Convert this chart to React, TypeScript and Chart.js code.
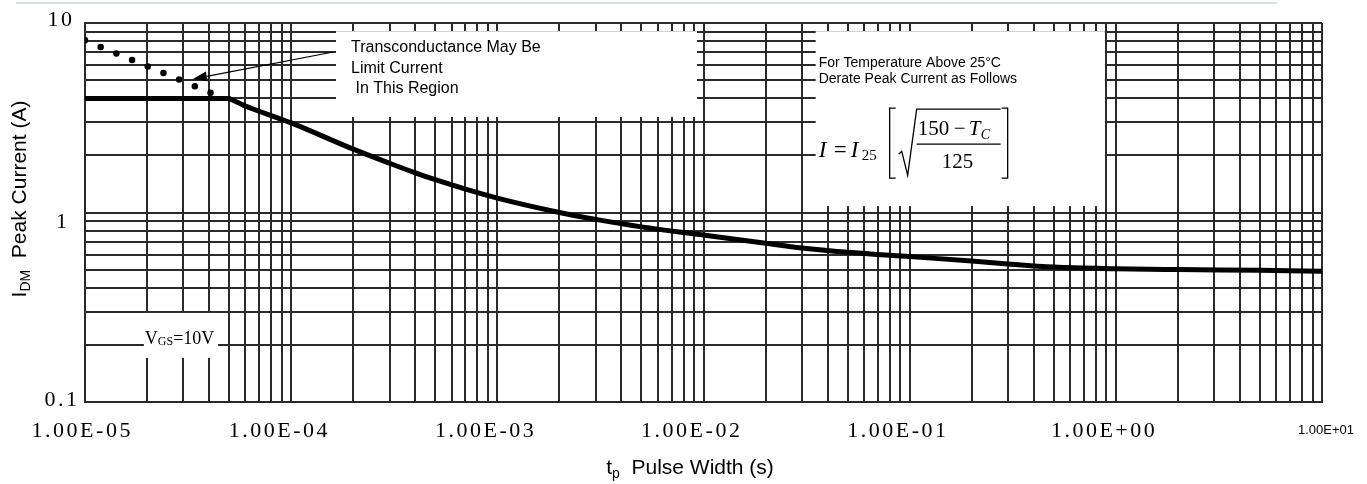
import React, { useEffect, useRef } from 'react';
import { Chart, registerables } from 'chart.js';

Chart.register(...registerables);

// ---------------- data ----------------
const FLAT_PULSE_WIDTH = [1e-5, 5e-5];
const FLAT_PEAK_CURRENT = [4.0, 4.0];

const PULSE_WIDTH = [5e-5, 6e-5, 1e-4, 2e-4, 3e-4, 4e-4, 5e-4, 7e-4, 1e-3, 2e-3, 3e-3, 5e-3, 1e-2, 2e-2, 3e-2, 5e-2, 1e-1, 2e-1, 3e-1, 5e-1, 1, 2, 5, 10];
const PEAK_CURRENT = [4.0, 3.65, 2.97, 2.16, 1.82, 1.62, 1.49, 1.33, 1.19, 1.0, 0.92, 0.84, 0.76, 0.688, 0.65, 0.617, 0.585, 0.555, 0.535, 0.515, 0.505, 0.5, 0.495, 0.49];

const GM_PULSE_WIDTH = [1e-5, 4.1e-5];
const GM_PEAK_CURRENT = [8.1, 4.27];

const X_TICK_VALUES = [1e-5, 1e-4, 1e-3, 1e-2, 1e-1, 1, 10];
const X_TICK_LABELS = ['1.00E-05', '1.00E-04', '1.00E-03', '1.00E-02', '1.00E-01', '1.00E+00', '1.00E+01'];
const Y_TICK_VALUES = [0.1, 1, 10];
const Y_TICK_LABELS = ['0.1', '1', '10'];
const MINOR_MULTIPLES = [1, 2, 3, 4, 5, 6, 7, 8, 9];

const GM_NOTE_LINES = ['Transconductance May Be', 'Limit Current', ' In This Region'];
const DERATE_NOTE_LINES = ['For Temperature Above 25\u00B0C', 'Derate Peak Current as Follows'];

// annotation boxes in data coordinates
const GM_BOX = { x0: 1.65e-4, x1: 9.3e-3, y0: 9.05, y1: 3.19 };
const DERATE_BOX = { x0: 3.5e-2, x1: 0.885, y0: 9.05, y1: 1.08 };
const VGS_BOX = { x0: 1.93e-5, x1: 4.42e-5, y0: 0.295, y1: 0.171 };
const ARROW_FROM = { x: 1.6e-4, y: 7.03 };
const ARROW_TO = { x: 3.34e-5, y: 5.06 };

const SANS = '"Liberation Sans", Arial, sans-serif';
const SERIF = '"Liberation Serif", "Times New Roman", serif';
const GRID = '#2a2a2a';

type Part = { text: string; font: string; dy?: number };

function drawParts(ctx: CanvasRenderingContext2D, parts: Part[], x: number, y: number, align: 'left' | 'center') {
  let total = 0;
  const widths = parts.map((p) => {
    ctx.font = p.font;
    const w = ctx.measureText(p.text).width;
    total += w;
    return w;
  });
  let cx = align === 'center' ? x - total / 2 : x;
  ctx.textAlign = 'left';
  parts.forEach((p, i) => {
    ctx.font = p.font;
    ctx.fillText(p.text, cx, y + (p.dy || 0));
    cx += widths[i];
  });
}

const overlayPlugin = {
  id: 'overlay',
  beforeDatasetsDraw(chart: any) {
    const ctx: CanvasRenderingContext2D = chart.ctx;
    const xs = chart.scales.x;
    const ys = chart.scales.y;
    const rect = (b: { x0: number; x1: number; y0: number; y1: number }) => ({
      l: xs.getPixelForValue(b.x0),
      r: xs.getPixelForValue(b.x1),
      t: ys.getPixelForValue(b.y0),
      b: ys.getPixelForValue(b.y1),
    });
    ctx.save();
    ctx.fillStyle = '#ffffff';
    const g = rect(GM_BOX);
    const d = rect(DERATE_BOX);
    const v = rect(VGS_BOX);
    [g, d, v].forEach((r) => ctx.fillRect(r.l, r.t, r.r - r.l, r.b - r.t));

    ctx.fillStyle = '#000';
    ctx.textBaseline = 'alphabetic';
    ctx.textAlign = 'left';
    // transconductance note
    ctx.font = `16px ${SANS}`;
    GM_NOTE_LINES.forEach((line, i) => {
      ctx.fillText(line, g.l + 15, g.t + 21 + i * 20.5);
    });
    // derate note
    ctx.font = `14px ${SANS}`;
    DERATE_NOTE_LINES.forEach((line, i) => {
      ctx.fillText(line, d.l + 3, d.t + 36 + i * 16);
    });

    // equation I = I25 [ sqrt((150 - Tc)/125) ]
    const ex = d.l + 3;
    const eb = d.t + 126;
    ctx.font = `italic 23px ${SERIF}`;
    ctx.fillText('I', ex, eb);
    ctx.font = `23px ${SERIF}`;
    ctx.fillText('=', ex + 15, eb);
    ctx.font = `italic 23px ${SERIF}`;
    ctx.fillText('I', ex + 32, eb);
    ctx.font = `15px ${SERIF}`;
    ctx.fillText('25', ex + 43, eb + 3);
    ctx.strokeStyle = '#000';
    ctx.lineWidth = 1.3;
    const top = d.t + 77;
    const bot = d.t + 147;
    // left bracket
    ctx.beginPath();
    ctx.moveTo(ex + 77, top);
    ctx.lineTo(ex + 71, top);
    ctx.lineTo(ex + 71, bot);
    ctx.lineTo(ex + 77, bot);
    ctx.stroke();
    // radical
    ctx.beginPath();
    ctx.moveTo(ex + 80, eb - 3);
    ctx.lineTo(ex + 83, eb - 6);
    ctx.lineTo(ex + 89, bot - 3);
    ctx.lineTo(ex + 98, top + 1);
    ctx.lineTo(ex + 182, top + 1);
    ctx.stroke();
    // numerator
    ctx.font = `21px ${SERIF}`;
    ctx.fillText('150', ex + 99, d.t + 104);
    ctx.fillText('\u2212', ex + 135, d.t + 104);
    ctx.font = `italic 21px ${SERIF}`;
    ctx.fillText('T', ex + 150, d.t + 104);
    ctx.font = `italic 14px ${SERIF}`;
    ctx.fillText('C', ex + 162, d.t + 108);
    // fraction bar
    ctx.beginPath();
    ctx.moveTo(ex + 98, d.t + 113);
    ctx.lineTo(ex + 182, d.t + 113);
    ctx.stroke();
    ctx.font = `21px ${SERIF}`;
    ctx.fillText('125', ex + 123, d.t + 137);
    // right bracket
    ctx.beginPath();
    ctx.moveTo(ex + 183, top);
    ctx.lineTo(ex + 189, top);
    ctx.lineTo(ex + 189, bot);
    ctx.lineTo(ex + 183, bot);
    ctx.stroke();

    // V_GS = 10V label
    drawParts(
      ctx,
      [
        { text: 'V', font: `18px ${SERIF}` },
        { text: 'GS', font: `12px ${SERIF}`, dy: 1 },
        { text: '=10V', font: `18px ${SERIF}` },
      ],
      v.l + 1,
      ys.getPixelForValue(0.2) - 1,
      'left'
    );
    ctx.restore();
  },
  afterDatasetsDraw(chart: any) {
    const ctx: CanvasRenderingContext2D = chart.ctx;
    const xs = chart.scales.x;
    const ys = chart.scales.y;
    const x1 = xs.getPixelForValue(ARROW_FROM.x);
    const y1 = ys.getPixelForValue(ARROW_FROM.y);
    const x2 = xs.getPixelForValue(ARROW_TO.x);
    const y2 = ys.getPixelForValue(ARROW_TO.y);
    const ang = Math.atan2(y2 - y1, x2 - x1);
    const len = 14;
    const hw = 5;
    const bx = x2 - len * Math.cos(ang);
    const by = y2 - len * Math.sin(ang);
    ctx.save();
    ctx.strokeStyle = '#000';
    ctx.fillStyle = '#000';
    ctx.lineWidth = 1.2;
    ctx.beginPath();
    ctx.moveTo(x1, y1);
    ctx.lineTo(bx, by);
    ctx.stroke();
    ctx.beginPath();
    ctx.moveTo(x2, y2);
    ctx.lineTo(bx + hw * Math.sin(ang), by - hw * Math.cos(ang));
    ctx.lineTo(bx - hw * Math.sin(ang), by + hw * Math.cos(ang));
    ctx.closePath();
    ctx.fill();
    ctx.restore();
  },
  afterDraw(chart: any) {
    const ctx: any = chart.ctx;
    const xs = chart.scales.x;
    const ys = chart.scales.y;
    ctx.save();
    ctx.fillStyle = '#000';
    ctx.textBaseline = 'alphabetic';

    // x tick labels
    X_TICK_VALUES.forEach((val, i) => {
      const px = xs.getPixelForValue(val);
      ctx.textAlign = 'center';
      if (i === X_TICK_VALUES.length - 1) {
        ctx.letterSpacing = '0px';
        ctx.font = `13px ${SANS}`;
        ctx.fillText(X_TICK_LABELS[i], px + 4, 434);
      } else {
        ctx.letterSpacing = '2.5px';
        ctx.font = `22px ${SERIF}`;
        ctx.fillText(X_TICK_LABELS[i], px + (i === 0 ? -4 : -13) + 1.25, 437);
      }
    });

    // y tick labels
    const yRight = [77, 67, 72];
    const yBase = [4, 15, 3];
    ctx.letterSpacing = '2.5px';
    ctx.textAlign = 'right';
    ctx.font = `22px ${SERIF}`;
    Y_TICK_VALUES.forEach((val, i) => {
      const py = ys.getPixelForValue(val);
      ctx.fillText(Y_TICK_LABELS[i], yRight[i] + 2.5, py + yBase[i]);
    });
    ctx.letterSpacing = '0px';

    // x title
    drawParts(
      ctx,
      [
        { text: 't', font: `21px ${SANS}` },
        { text: 'p', font: `14px ${SANS}`, dy: 4 },
        { text: '  Pulse Width (s)', font: `21px ${SANS}` },
      ],
      690,
      474,
      'center'
    );

    // y title
    ctx.save();
    ctx.translate(18, 199);
    ctx.rotate(-Math.PI / 2);
    drawParts(
      ctx,
      [
        { text: 'I', font: `21px ${SANS}` },
        { text: 'DM', font: `14px ${SANS}`, dy: 4 },
        { text: '  Peak Current (A)', font: `21px ${SANS}` },
      ],
      0,
      8,
      'center'
    );
    ctx.restore();

    // thin separator line at the very top
    ctx.strokeStyle = '#c9d5e8';
    ctx.lineWidth = 1.5;
    ctx.beginPath();
    ctx.moveTo(16, 3);
    ctx.lineTo(1277, 3);
    ctx.stroke();
    ctx.restore();
  },
};

export default function App() {
  const ref = useRef<HTMLCanvasElement>(null);
  useEffect(() => {
    document.body.style.margin = '0';
    document.body.style.overflow = 'hidden';
    const canvas = ref.current;
    if (!canvas) return;
    const toPts = (xs: number[], ys: number[]) => xs.map((x, i) => ({ x, y: ys[i] }));
    const xGrid: number[] = [];
    X_TICK_VALUES.forEach((dec, i) => {
      if (i < X_TICK_VALUES.length - 1) MINOR_MULTIPLES.forEach((m) => xGrid.push(m * dec));
      else xGrid.push(dec);
    });
    const yGrid: number[] = [];
    Y_TICK_VALUES.forEach((dec, i) => {
      if (i < Y_TICK_VALUES.length - 1) MINOR_MULTIPLES.forEach((m) => yGrid.push(m * dec));
      else yGrid.push(dec);
    });

    const chart = new Chart(canvas, {
      type: 'line',
      data: {
        datasets: [
          {
            data: toPts(FLAT_PULSE_WIDTH, FLAT_PEAK_CURRENT),
            borderColor: '#000',
            borderWidth: 5,
            pointRadius: 0,
            borderCapStyle: 'round',
          },
          {
            data: toPts(PULSE_WIDTH, PEAK_CURRENT),
            borderColor: '#000',
            borderWidth: 5,
            pointRadius: 0,
            cubicInterpolationMode: 'monotone',
            borderJoinStyle: 'round',
            borderCapStyle: 'round',
          },
          {
            data: toPts(GM_PULSE_WIDTH, GM_PEAK_CURRENT),
            borderColor: '#000',
            borderWidth: 6.5,
            pointRadius: 0,
            borderDash: [0, 17],
            borderCapStyle: 'round',
          },
        ],
      } as any,
      options: {
        responsive: false,
        animation: false,
        devicePixelRatio: 1,
        events: [],
        layout: { padding: { left: 0, right: 45, top: 23, bottom: 0 } },
        plugins: { legend: { display: false }, tooltip: { enabled: false }, title: { display: false } },
        scales: {
          x: {
            type: 'logarithmic',
            min: 1e-5,
            max: 10,
            afterBuildTicks: (s: any) => {
              s.ticks = xGrid.map((value) => ({ value }));
            },
            afterFit: (s: any) => {
              s.height = 82;
            },
            ticks: { display: false },
            grid: { color: GRID, lineWidth: 2, drawTicks: false, tickLength: 0 },
            border: { color: GRID, width: 2 },
          },
          y: {
            type: 'logarithmic',
            min: 0.1,
            max: 10,
            afterBuildTicks: (s: any) => {
              s.ticks = yGrid.map((value) => ({ value }));
            },
            afterFit: (s: any) => {
              s.width = 85;
            },
            ticks: { display: false },
            grid: { color: GRID, lineWidth: 2, drawTicks: false, tickLength: 0 },
            border: { color: GRID, width: 2 },
          },
        },
      } as any,
      plugins: [overlayPlugin],
    });
    return () => chart.destroy();
  }, []);
  return <canvas ref={ref} width={1367} height={484} style={{ display: 'block' }} />;
}
